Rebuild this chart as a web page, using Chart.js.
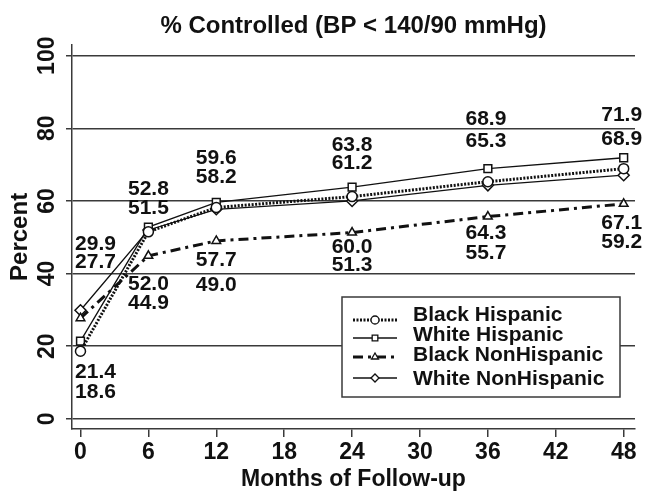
<!DOCTYPE html>
<html>
<head>
<meta charset="utf-8">
<script src="https://cdn.jsdelivr.net/npm/chart.js@4/dist/chart.umd.min.js"></script>
<style>
  html, body { margin: 0; padding: 0; background: #ffffff; }
  #wrap { width: 646px; height: 499px; }
</style>
</head>
<body>
<div id="wrap"><canvas id="c" width="646" height="499"></canvas></div>
<script>
// ---- data ----
const months = [0, 6, 12, 24, 36, 48];
const xTickValues = [0, 6, 12, 18, 24, 30, 36, 42, 48];
const yTickValues = [0, 20, 40, 60, 80, 100];
const seriesNames = ["Black Hispanic", "White Hispanic", "Black NonHispanic", "White NonHispanic"];
const blackHispanic    = [18.6, 51.5, 58.2, 61.2, 65.3, 68.9];
const whiteHispanic    = [21.4, 52.8, 59.6, 63.8, 68.9, 71.9];
const blackNonHispanic = [27.7, 44.9, 49.0, 51.3, 55.7, 59.2];
const whiteNonHispanic = [29.9, 52.0, 57.7, 60.0, 64.3, 67.1];

// ---- layout of value labels (in axis units / px offsets) ----
const labelYBlackHispanic    = [7.4, 57.9, 66.5, 70.4, 76.4, 77.1];
const labelYWhiteHispanic    = [12.9, 63.1, 71.8, 75.4, 82.6, 83.5];
const labelYBlackNonHispanic = [43.2, 31.8, 36.8, 42.4, 45.7, 48.6];
const labelYWhiteNonHispanic = [48.2, 37.1, 43.6, 47.2, 51.0, 54.0];
const labelDx = [15, 0, 0, 0, -2, -2];

const INK = '#111111';
const GRID = '#3a3a3a';
const FONT = "'Liberation Sans', Arial, Helvetica, sans-serif";

function pts(vals) { return months.map((m, i) => ({ x: m, y: vals[i] })); }

const datasets = [
  { label: seriesNames[0], data: pts(blackHispanic), borderColor: INK, borderWidth: 3, borderDash: [2, 1.5],
    pointStyle: 'circle', pointRadius: 5, pointBorderWidth: 1.5, pointBackgroundColor: '#fff', pointBorderColor: INK,
    labelY: labelYBlackHispanic, values: blackHispanic },
  { label: seriesNames[1], data: pts(whiteHispanic), borderColor: INK, borderWidth: 1.3, borderDash: [],
    pointStyle: 'rect', pointRadius: 5.5, pointBorderWidth: 1.5, pointBackgroundColor: '#fff', pointBorderColor: INK,
    labelY: labelYWhiteHispanic, values: whiteHispanic },
  { label: seriesNames[2], data: pts(blackNonHispanic), borderColor: INK, borderWidth: 3, borderDash: [10, 5, 3, 5],
    pointStyle: 'triangle', pointRadius: 5, pointBorderWidth: 1.5, pointBackgroundColor: '#fff', pointBorderColor: INK,
    labelY: labelYBlackNonHispanic, values: blackNonHispanic },
  { label: seriesNames[3], data: pts(whiteNonHispanic), borderColor: INK, borderWidth: 1.3, borderDash: [],
    pointStyle: 'rectRot', pointRadius: 5.5, pointBorderWidth: 1.5, pointBackgroundColor: '#fff', pointBorderColor: INK,
    labelY: labelYWhiteNonHispanic, values: whiteNonHispanic }
];
datasets.forEach(d => { d.fill = false; d.tension = 0; });

const yTickPlugin = {
  id: 'yTickLabels',
  afterDraw(chart) {
    const ctx = chart.ctx, y = chart.scales.y;
    ctx.save();
    ctx.fillStyle = INK;
    ctx.font = "bold 23px " + FONT;
    ctx.textAlign = 'center';
    ctx.textBaseline = 'middle';
    y.ticks.forEach(t => {
      const py = y.getPixelForValue(t.value);
      ctx.save();
      ctx.translate(48, py);
      ctx.rotate(-Math.PI / 2);
      ctx.fillText(String(t.value), 0, 0);
      ctx.restore();
    });
    ctx.restore();
  }
};

const valueLabelPlugin = {
  id: 'valueLabels',
  afterDatasetsDraw(chart) {
    const ctx = chart.ctx, xs = chart.scales.x, ys = chart.scales.y;
    ctx.save();
    ctx.fillStyle = INK;
    ctx.font = "bold 21px " + FONT;
    ctx.textAlign = 'center';
    ctx.textBaseline = 'middle';
    chart.data.datasets.forEach(ds => {
      months.forEach((m, i) => {
        const px = xs.getPixelForValue(m) + labelDx[i];
        const py = ys.getPixelForValue(ds.labelY[i]);
        ctx.fillText(ds.values[i].toFixed(1), px, py);
      });
    });
    ctx.restore();
  }
};

const legendPlugin = {
  id: 'boxLegend',
  afterDraw(chart) {
    const ctx = chart.ctx;
    const box = { l: 342, t: 297, r: 620, b: 397 };
    const rowsText = [315.5, 335.5, 355.5, 379.5];
    const rowsLine = [320, 338, 357, 378];
    ctx.save();
    ctx.fillStyle = '#fff';
    ctx.fillRect(box.l, box.t, box.r - box.l, box.b - box.t);
    ctx.strokeStyle = GRID;
    ctx.lineWidth = 1.5;
    ctx.strokeRect(box.l, box.t, box.r - box.l, box.b - box.t);
    chart.data.datasets.forEach((ds, i) => {
      ctx.save();
      ctx.strokeStyle = ds.borderColor;
      ctx.lineWidth = ds.borderWidth;
      ctx.setLineDash(ds.borderDash || []);
      ctx.beginPath();
      ctx.moveTo(353, rowsLine[i]);
      ctx.lineTo(397, rowsLine[i]);
      ctx.stroke();
      ctx.setLineDash([]);
      ctx.fillStyle = '#fff';
      ctx.strokeStyle = ds.pointBorderColor;
      ctx.lineWidth = 1.3;
      Chart.helpers.drawPoint(ctx, { pointStyle: ds.pointStyle, rotation: 0, borderWidth: 1.3, radius: 4 }, 375, rowsLine[i]);
      ctx.restore();
      ctx.fillStyle = INK;
      ctx.font = "bold 21px " + FONT;
      ctx.textAlign = 'left';
      ctx.textBaseline = 'middle';
      ctx.fillText(ds.label, 413, rowsText[i]);
    });
    ctx.restore();
  }
};

new Chart(document.getElementById('c'), {
  type: 'line',
  data: { datasets },
  options: {
    responsive: false,
    devicePixelRatio: 1,
    animation: false,
    layout: { padding: { left: 0, right: 11, top: 0, bottom: 0 } },
    plugins: {
      legend: { display: false },
      tooltip: { enabled: false },
      title: {
        display: true,
        fullSize: false,
        text: '% Controlled (BP < 140/90 mmHg)',
        color: INK,
        font: { family: FONT, size: 24, weight: 'bold', lineHeight: 1.2 },
        padding: { top: 12, bottom: 4 }
      }
    },
    scales: {
      x: {
        type: 'linear',
        min: -0.75,
        max: 49,
        afterBuildTicks(s) { s.ticks = xTickValues.map(v => ({ value: v })); },
        afterFit(s) { s.height = 70; },
        grid: { drawOnChartArea: false, drawTicks: true, tickLength: 8, color: GRID, lineWidth: 1.5 },
        border: { display: true, color: GRID, width: 1.5 },
        ticks: { color: INK, font: { family: FONT, size: 23, weight: 'bold' }, padding: 2, maxRotation: 0, autoSkip: false },
        title: { display: true, text: 'Months of Follow-up', color: INK,
                 font: { family: FONT, size: 23, weight: 'bold', lineHeight: 1.2 }, padding: { top: 0, bottom: 6 } }
      },
      y: {
        type: 'linear',
        min: -2.8,
        max: 103,
        afterBuildTicks(s) { s.ticks = yTickValues.map(v => ({ value: v })); },
        afterFit(s) { s.width = 72; },
        grid: { drawOnChartArea: true, drawTicks: true, tickLength: 6, color: GRID, lineWidth: 1.5 },
        border: { display: true, color: GRID, width: 1.5 },
        ticks: { display: false },
        title: { display: true, text: 'Percent', color: INK,
                 font: { family: FONT, size: 24, weight: 'bold', lineHeight: 1.2 }, padding: { top: 6, bottom: 0 } }
      }
    }
  },
  plugins: [yTickPlugin, valueLabelPlugin, legendPlugin]
});
</script>
</body>
</html>
